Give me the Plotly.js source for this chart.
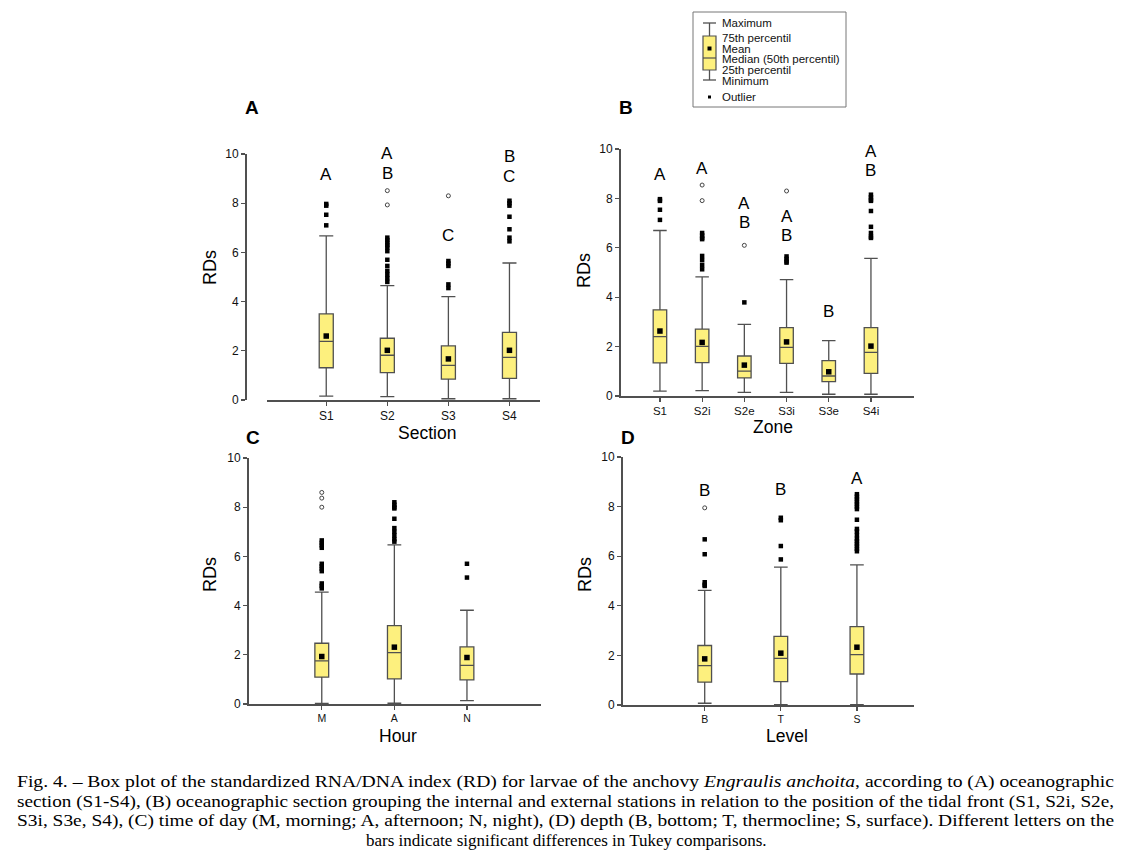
<!DOCTYPE html>
<html>
<head>
<meta charset="utf-8">
<script src="https://cdn.plot.ly/plotly-3.0.1.min.js"></script>
<style>html,body{margin:0;padding:0;background:#fff;}#plot{width:1133px;height:859px;}</style>
</head>
<body>
<div id="plot"></div>
<script>
// ---------- DATA ----------
// Panel A: Section
const catsA = ['S1','S2','S3','S4'];
const q1A   = [1.31, 1.11, 0.85, 0.88];
const medA  = [2.38, 1.82, 1.41, 1.73];
const q3A   = [3.50, 2.51, 2.20, 2.75];
const loA   = [0.16, 0.14, 0.05, 0.05];
const hiA   = [6.67, 4.65, 4.20, 5.57];
const meanA = [2.60, 2.02, 1.67, 2.02];
const outA  = [[7.97,7.90,7.53,7.10],[6.6,6.5,6.4,6.3,6.2,6.05,5.7,5.45,5.25,5.1,4.95,4.8],[5.65,5.55,5.45,4.7,4.55],[8.1,8.0,7.9,7.45,6.94,6.6,6.45]];
const farA  = [[],[8.51,7.93],[8.3],[]];
const lettersA = [['A'],['A','B'],['C'],['B','C']];
const letterYA = [[9.15],[10.0,9.2],[6.7],[9.9,9.1]];

// Panel B: Zone
const catsB = ['S1','S2i','S2e','S3i','S3e','S4i'];
const q1B   = [1.34, 1.35, 0.73, 1.32, 0.58, 0.92];
const medB  = [2.40, 2.01, 1.01, 1.97, 0.81, 1.77];
const q3B   = [3.49, 2.71, 1.62, 2.77, 1.43, 2.77];
const loB   = [0.20, 0.22, 0.15, 0.15, 0.07, 0.07];
const hiB   = [6.70, 4.82, 2.90, 4.71, 2.24, 5.57];
const meanB = [2.63, 2.17, 1.25, 2.19, 0.98, 2.02];
const outB  = [[7.97,7.9,7.54,7.13],[6.6,6.5,6.4,6.35,5.67,5.5,5.3,5.13],[3.79],[5.65,5.55,5.45,5.4],[],[8.15,8.05,7.95,7.9,7.49,6.85,6.6,6.45,6.4]];
const farB  = [[],[8.54,7.91],[6.1],[8.3],[],[]];
const lettersB = [['A'],['A'],['A','B'],['A','B'],['B'],['A','B']];
const letterYB = [[8.95],[9.2],[7.8,7.02],[7.26,6.48],[3.44],[9.9,9.12]];

// Panel C: Hour
const catsC = ['M','A','N'];
const q1C   = [1.09, 1.02, 0.98];
const medC  = [1.75, 2.09, 1.57];
const q3C   = [2.47, 3.19, 2.32];
const loC   = [0.02, 0.03, 0.14];
const hiC   = [4.55, 6.47, 3.81];
const meanC = [1.93, 2.31, 1.89];
const outC  = [[6.65,6.55,6.45,6.35,5.7,5.6,5.5,5.4,4.9,4.8,4.7],[8.2,8.1,8.0,7.95,7.53,7.15,7.0,6.85,6.7,6.6],[5.7,5.14]];
const farC  = [[8.6,8.37,8.0],[],[]];
const lettersC = [[],[],[]];
const letterYC = [[],[],[]];

// Panel D: Level
const catsD = ['B','T','S'];
const q1D   = [0.92, 0.94, 1.25];
const medD  = [1.59, 1.88, 2.03];
const q3D   = [2.40, 2.77, 3.16];
const loD   = [0.07, 0.01, 0.01];
const hiD   = [4.62, 5.56, 5.65];
const meanD = [1.86, 2.09, 2.33];
const outD  = [[6.68,6.08,4.95,4.85,4.8],[7.55,7.45,6.41,5.87],[8.5,8.4,8.3,8.2,8.1,8.0,7.9,7.47,7.1,7.0,6.85,6.7,6.6,6.5,6.4,6.3,6.2]];
const farD  = [[7.95],[],[]];
const lettersD = [['B'],['B'],['A']];
const letterYD = [[8.65],[8.68],[9.12]];

const yTicks = [0,2,4,6,8,10];
const legendLabels = ['Maximum','75th percentil','Mean','Median (50th percentil)','25th percentil','Minimum','Outlier'];
const captionLines = [
  'Fig. 4. – Box plot of the standardized RNA/DNA index (RD) for larvae of the anchovy <i>Engraulis anchoita</i>, according to (A) oceanographic',
  'section (S1-S4), (B) oceanographic section grouping the internal and external stations in relation to the position of the tidal front (S1, S2i, S2e,',
  'S3i, S3e, S4), (C) time of day (M, morning; A, afternoon; N, night), (D) depth (B, bottom; T, thermocline; S, surface). Different letters on the',
  'bars indicate significant differences in Tukey comparisons.'
];

// ---------- LAYOUT HELPERS ----------
const W = 1133, H = 859;
const px = v => v / W;
const py = v => 1 - v / H;
const SANS = 'Liberation Sans, Arial, sans-serif';
const SERIF = 'Liberation Serif, Times New Roman, serif';
const YELLOW = '#fdf07e';
const LINE = '#505050';

const panels = [
  {cats:catsA,q1:q1A,med:medA,q3:q3A,lo:loA,hi:hiA,mean:meanA,out:outA,far:farA,let:lettersA,letY:letterYA,
   xs:'x',ys:'y',xd:[267,540],yd:[400,154],ypos:245,xr:[-0.97,3.5],bw:0.23,tf:12},
  {cats:catsB,q1:q1B,med:medB,q3:q3B,lo:loB,hi:hiB,mean:meanB,out:outB,far:farB,let:lettersB,letY:letterYB,
   xs:'x2',ys:'y2',xd:[619,914],yd:[396,149],ypos:619,xr:[-0.97,6.02],bw:0.32,tf:11.5},
  {cats:catsC,q1:q1C,med:medC,q3:q3C,lo:loC,hi:hiC,mean:meanC,out:outC,far:farC,let:lettersC,letY:letterYC,
   xs:'x3',ys:'y3',xd:[247,541],yd:[704,458],ypos:247,xr:[-1.03,3.02],bw:0.19,tf:10.5},
  {cats:catsD,q1:q1D,med:medD,q3:q3D,lo:loD,hi:hiD,mean:meanD,out:outD,far:farD,let:lettersD,letY:letterYD,
   xs:'x4',ys:'y4',xd:[621,914],yd:[705,457],ypos:621,xr:[-1.1,2.75],bw:0.18,tf:10.5}
];

const traces = [];
const annotations = [];
const layout = {
  width: W, height: H,
  margin: {l:0, r:0, t:0, b:0},
  paper_bgcolor: '#ffffff', plot_bgcolor: 'rgba(0,0,0,0)',
  showlegend: false,
  font: {family: SANS, color: '#111'},
  shapes: [],
  annotations: annotations
};

panels.forEach((p, k) => {
  const sfx = k === 0 ? '' : String(k + 1);
  layout['xaxis' + sfx] = {
    domain: [px(p.xd[0]), px(p.xd[1])],
    anchor: p.ys,
    type: 'category',
    categoryorder: 'array', categoryarray: p.cats,
    range: p.xr,
    showline: true, linecolor: LINE, linewidth: 1.5,
    ticks: 'outside', ticklen: 4, tickcolor: LINE, tickwidth: 1.2,
    showgrid: false, zeroline: false,
    tickfont: {family: SANS, size: p.tf, color: '#111'},
    fixedrange: true
  };
  layout['yaxis' + sfx] = {
    domain: [py(p.yd[0]), py(p.yd[1])],
    anchor: 'free', position: px(p.ypos),
    range: [0, 10],
    tickvals: yTicks,
    showline: true, linecolor: LINE, linewidth: 1.5,
    ticks: 'outside', ticklen: 4, tickcolor: LINE, tickwidth: 1.2,
    showgrid: false, zeroline: false,
    tickfont: {family: SANS, size: 12, color: '#111'},
    fixedrange: true
  };
  traces.push({
    type: 'box', xaxis: p.xs, yaxis: p.ys,
    x: p.cats, q1: p.q1, median: p.med, q3: p.q3,
    lowerfence: p.lo, upperfence: p.hi,
    boxpoints: false, width: p.bw, whiskerwidth: 1,
    fillcolor: YELLOW, line: {color: LINE, width: 1.3},
    hoverinfo: 'skip'
  });
  traces.push({
    type: 'scatter', mode: 'markers', xaxis: p.xs, yaxis: p.ys,
    x: p.cats, y: p.mean,
    marker: {symbol: 'square', size: 5.5, color: '#000'},
    hoverinfo: 'skip', cliponaxis: false
  });
  const ox = [], oy = [], fx = [], fy = [];
  p.cats.forEach((c, i) => {
    p.out[i].forEach(v => { ox.push(c); oy.push(v); });
    p.far[i].forEach(v => { fx.push(c); fy.push(v); });
  });
  traces.push({
    type: 'scatter', mode: 'markers', xaxis: p.xs, yaxis: p.ys,
    x: ox, y: oy,
    marker: {symbol: 'square', size: 4.5, color: '#000'},
    hoverinfo: 'skip', cliponaxis: false
  });
  traces.push({
    type: 'scatter', mode: 'markers', xaxis: p.xs, yaxis: p.ys,
    x: fx, y: fy,
    marker: {symbol: 'circle-open', size: 4, color: '#444', line: {width: 1, color: '#444'}},
    hoverinfo: 'skip', cliponaxis: false
  });
  p.let.forEach((arr, i) => {
    arr.forEach((t, j) => {
      annotations.push({
        xref: p.xs, yref: p.ys, x: i, y: p.letY[i][j],
        text: t, showarrow: false, xanchor: 'center', yanchor: 'middle',
        font: {family: SANS, size: 17, color: '#000'}
      });
    });
  });
});

// Panel letters, axis titles
const paperText = (x, y, text, size, opts) => Object.assign({
  xref: 'paper', yref: 'paper', x: px(x), y: py(y), text: text,
  showarrow: false, xanchor: 'center', yanchor: 'middle',
  font: {family: SANS, size: size, color: '#000'}
}, opts || {});

annotations.push(paperText(252, 108, '<b>A</b>', 19));
annotations.push(paperText(626, 108, '<b>B</b>', 19));
annotations.push(paperText(253, 437, '<b>C</b>', 19));
annotations.push(paperText(628, 437, '<b>D</b>', 19));

annotations.push(paperText(210, 268, 'RDs', 18, {textangle: -90}));
annotations.push(paperText(584, 271, 'RDs', 18, {textangle: -90}));
annotations.push(paperText(210, 575, 'RDs', 18, {textangle: -90}));
annotations.push(paperText(585, 575, 'RDs', 18, {textangle: -90}));

annotations.push(paperText(427, 433, 'Section', 17.5));
annotations.push(paperText(773, 427, 'Zone', 17.5));
annotations.push(paperText(398, 736, 'Hour', 17.5));
annotations.push(paperText(787, 736, 'Level', 17.5));

// Legend box
const legY = [23, 38, 49, 59, 70, 81, 97];
legendLabels.forEach((t, i) => {
  annotations.push(paperText(720, legY[i], t, 11.5, {xanchor: 'left', font: {family: SANS, size: 11.5, color: '#111'}}));
});
const S = layout.shapes;
const pshape = (o) => S.push(Object.assign({xref: 'paper', yref: 'paper'}, o));
pshape({type: 'rect', x0: px(693), x1: px(846), y0: py(12), y1: py(107), line: {color: '#777', width: 1}, fillcolor: 'rgba(0,0,0,0)'});
pshape({type: 'line', x0: px(709.5), x1: px(709.5), y0: py(23), y1: py(80), line: {color: LINE, width: 1.3}});
pshape({type: 'line', x0: px(703), x1: px(716), y0: py(23), y1: py(23), line: {color: LINE, width: 1.3}});
pshape({type: 'line', x0: px(703), x1: px(716), y0: py(80), y1: py(80), line: {color: LINE, width: 1.3}});
pshape({type: 'rect', x0: px(703), x1: px(716), y0: py(36), y1: py(70), line: {color: LINE, width: 1.2}, fillcolor: YELLOW});
pshape({type: 'line', x0: px(703), x1: px(716), y0: py(58), y1: py(58), line: {color: LINE, width: 1.2}});
pshape({type: 'rect', x0: px(707.5), x1: px(711.5), y0: py(46.5), y1: py(50.5), line: {width: 0}, fillcolor: '#000'});
pshape({type: 'rect', x0: px(708), x1: px(711), y0: py(95.5), y1: py(98.5), line: {width: 0}, fillcolor: '#000'});

// Caption
const capY = [781, 801, 820, 840];
const capIdx = [];
captionLines.forEach((t, i) => {
  capIdx.push(annotations.length);
  if (i < 3) {
    annotations.push(paperText(15, capY[i], t, 17, {xanchor: 'left', align: 'left', font: {family: SERIF, size: 17, color: '#000'}}));
  } else {
    annotations.push(paperText(566, capY[i], t, 17, {font: {family: SERIF, size: 17, color: '#000'}}));
  }
});

Plotly.newPlot('plot', traces, layout, {staticPlot: true, displayModeBar: false}).then(gd => {
  // justify first three caption lines to the full text width
  const groups = gd.querySelectorAll('.annotation');
  groups.forEach(g => {
    const idx = +g.getAttribute('data-index');
    const pos = capIdx.indexOf(idx);
    if (pos >= 0 && pos < 3) {
      const txt = g.querySelector('text.annotation-text');
      if (txt) {
        txt.setAttribute('textLength', '1097');
        txt.setAttribute('lengthAdjust', 'spacingAndGlyphs');
      }
    }
  });
});
</script>
</body>
</html>
